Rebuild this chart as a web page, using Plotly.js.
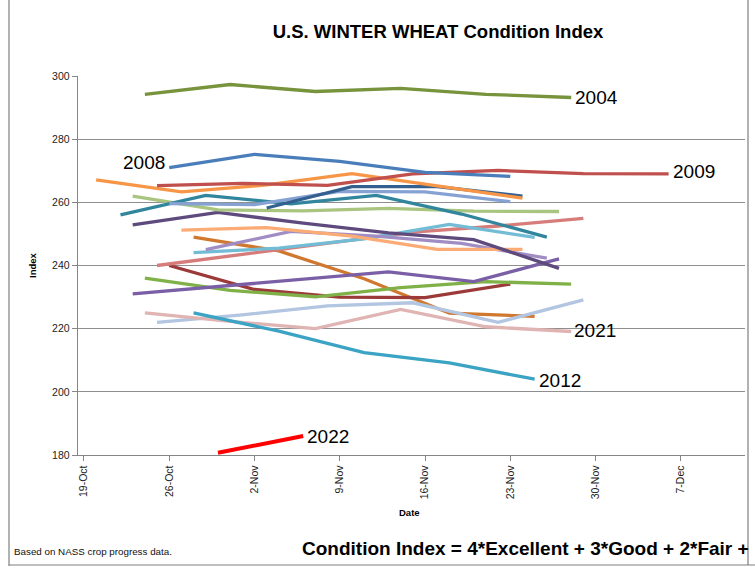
<!DOCTYPE html>
<html>
<head>
<meta charset="utf-8">
<script src="https://cdn.plot.ly/plotly-3.0.1.min.js"></script>
<style>html,body{margin:0;padding:0;background:#fff;}#chart{width:755px;height:572px;}</style>
</head>
<body>
<div id="chart"></div>
<script>
// ---- data (dates mapped onto a common season; values = condition index) ----
const yr2004_dates = ['2001-10-24','2001-10-31','2001-11-07','2001-11-14','2001-11-21','2001-11-28'];
const yr2004_vals  = [294.2, 297.3, 295.1, 296.1, 294.2, 293.2];

const yr2008_dates = ['2001-10-26','2001-11-02','2001-11-09','2001-11-16','2001-11-23'];
const yr2008_vals  = [271, 275.2, 273, 269.5, 268.2];

const yr2009_dates = ['2001-10-25','2001-11-01','2001-11-08','2001-11-15','2001-11-22','2001-11-29','2001-12-06'];
const yr2009_vals  = [265.3, 266, 265.4, 269, 270.1, 269.1, 269];

const orange_dates = ['2001-10-20','2001-10-27','2001-11-03','2001-11-10','2001-11-17','2001-11-24'];
const orange_vals  = [267.1, 263.3, 265.5, 269.1, 265.2, 261.3];

const darkBlue_dates = ['2001-11-03','2001-11-10','2001-11-17','2001-11-24'];
const darkBlue_vals  = [258.2, 265, 265, 262];

const steelBlue_dates = ['2001-10-26','2001-11-02','2001-11-09','2001-11-16','2001-11-23'];
const steelBlue_vals  = [259.6, 259.3, 263.5, 263.3, 260.2];

const teal_dates = ['2001-10-22','2001-10-29','2001-11-05','2001-11-12','2001-11-19','2001-11-26'];
const teal_vals  = [256, 262.2, 259.5, 262.2, 256.3, 249];

const lightGreen_dates = ['2001-10-23','2001-10-30','2001-11-06','2001-11-13','2001-11-20','2001-11-27'];
const lightGreen_vals  = [262, 257.6, 257.3, 258.1, 257.2, 257.1];

const darkPurple_dates = ['2001-10-23','2001-10-30','2001-11-06','2001-11-13','2001-11-20','2001-11-27'];
const darkPurple_vals  = [252.9, 256.8, 253.4, 250.3, 248.2, 239.1];

const peach_dates = ['2001-10-27','2001-11-03','2001-11-10','2001-11-17','2001-11-24'];
const peach_vals  = [251.2, 252, 249.3, 245.1, 245.1];

const lavender_dates = ['2001-10-29','2001-11-05','2001-11-12','2001-11-19','2001-11-26'];
const lavender_vals  = [245, 250.8, 249.3, 247, 242.3];

const rose_dates = ['2001-10-25','2001-11-01','2001-11-08','2001-11-15','2001-11-22','2001-11-29'];
const rose_vals  = [240, 243.6, 247.2, 250.6, 252.5, 254.9];

const skyBlue_dates = ['2001-10-28','2001-11-04','2001-11-11','2001-11-18','2001-11-25'];
const skyBlue_vals  = [244.1, 245.5, 248.4, 253, 248.9];

const darkOrange_dates = ['2001-10-28','2001-11-04','2001-11-11','2001-11-18','2001-11-25'];
const darkOrange_vals  = [249, 244.6, 235.8, 224.9, 223.9];

const darkRed_dates = ['2001-10-26','2001-11-02','2001-11-09','2001-11-16','2001-11-23'];
const darkRed_vals  = [240, 232.4, 230, 229.8, 234.1];

const green_dates = ['2001-10-24','2001-10-31','2001-11-07','2001-11-14','2001-11-21','2001-11-28'];
const green_vals  = [236, 232.1, 230.1, 233, 234.9, 234.1];

const purple_dates = ['2001-10-23','2001-10-30','2001-11-06','2001-11-13','2001-11-20','2001-11-27'];
const purple_vals  = [231, 233.4, 235.7, 238, 234.9, 242.1];

const blueGray_dates = ['2001-10-25','2001-11-01','2001-11-08','2001-11-15','2001-11-22','2001-11-29'];
const blueGray_vals  = [222, 224.4, 227.2, 228.2, 222, 229.1];

const yr2021_dates = ['2001-10-24','2001-10-31','2001-11-07','2001-11-14','2001-11-21','2001-11-28'];
const yr2021_vals  = [225, 222.3, 220, 226.1, 220.6, 219.1];

const yr2012_dates = ['2001-10-28','2001-11-04','2001-11-11','2001-11-18','2001-11-25'];
const yr2012_vals  = [225, 219.2, 212.4, 209.2, 204];

const yr2022_dates = ['2001-10-30','2001-11-06'];
const yr2022_vals  = [180.7, 186];

const tickStart = '2001-10-19';
const yTicks = [180, 200, 220, 240, 260, 280, 300];

// ---- series styling ----
const series = [
  {d: darkOrange_dates, v: darkOrange_vals, c: '#D0782F'},
  {d: darkRed_dates, v: darkRed_vals, c: '#9B3A38'},
  {d: green_dates, v: green_vals, c: '#80B148'},
  {d: purple_dates, v: purple_vals, c: '#7A5FA6'},
  {d: blueGray_dates, v: blueGray_vals, c: '#B2C5E1'},
  {d: yr2021_dates, v: yr2021_vals, c: '#DFB4B3'},
  {d: yr2012_dates, v: yr2012_vals, c: '#3BA3C3'},
  {d: rose_dates, v: rose_vals, c: '#D67D7B'},
  {d: skyBlue_dates, v: skyBlue_vals, c: '#72BCD5'},
  {d: lavender_dates, v: lavender_vals, c: '#A08DC4'},
  {d: peach_dates, v: peach_vals, c: '#FBAB75'},
  {d: darkPurple_dates, v: darkPurple_vals, c: '#5F4A7E'},
  {d: lightGreen_dates, v: lightGreen_vals, c: '#A9C580'},
  {d: teal_dates, v: teal_vals, c: '#31869D'},
  {d: steelBlue_dates, v: steelBlue_vals, c: '#85A2D3'},
  {d: darkBlue_dates, v: darkBlue_vals, c: '#34608F'},
  {d: orange_dates, v: orange_vals, c: '#F79646'},
  {d: yr2009_dates, v: yr2009_vals, c: '#C0504D'},
  {d: yr2008_dates, v: yr2008_vals, c: '#4A7EBB'},
  {d: yr2004_dates, v: yr2004_vals, c: '#77933C'},
  {d: yr2022_dates, v: yr2022_vals, c: '#FF0000', w: 4}
];

const traces = series.map(s => ({
  type: 'scatter', mode: 'lines', x: s.d, y: s.v,
  line: {color: s.c, width: s.w || 3.3}, hoverinfo: 'skip'
}));

const labFont = {family: 'Liberation Sans, Arial, sans-serif', size: 19, color: '#000'};
function endLabel(text, dates, vals, xs, ys) {
  return {x: dates[dates.length-1], y: vals[vals.length-1], xref: 'x', yref: 'y', text: text,
    showarrow: false, xanchor: 'left', yanchor: 'middle', xshift: xs, yshift: ys, font: labFont};
}

// paper-coordinate helpers (plot area: px 78..745, py 76..455)
const L = 78, R = 745, T = 76, B = 455;
const px = x => (x - L) / (R - L);
const py = y => (B - y) / (B - T);

const layout = {
  width: 755, height: 572,
  margin: {l: L, r: 755 - R, t: T, b: 572 - B, pad: 0},
  paper_bgcolor: '#fff', plot_bgcolor: '#fff',
  showlegend: false,
  title: {text: 'U.S. WINTER WHEAT Condition Index', x: px(438), xref: 'paper', xanchor: 'center',
          y: 1 - 32/572, yanchor: 'middle',
          font: {family: 'Liberation Sans, Arial, sans-serif', size: 18.5, color: '#000', weight: 'bold'}},
  xaxis: {type: 'date', range: ['2001-10-18 12:15', '2001-12-12 06:30'],
          tick0: tickStart, dtick: 7*86400000, tickformat: '%-d-%b', tickangle: -90,
          ticks: 'outside', ticklen: 5, tickcolor: '#868686',
          showline: true, linecolor: '#868686', linewidth: 1.3, showgrid: false, zeroline: false,
          tickfont: {family: 'Liberation Sans, Arial, sans-serif', size: 10.5, color: '#222'}},
  yaxis: {range: [180, 300], tickvals: yTicks, ticks: 'outside', ticklen: 5, tickcolor: '#868686',
          showline: true, linecolor: '#868686', linewidth: 1.3,
          showgrid: true, gridcolor: '#8e8e8e', gridwidth: 1.3, zeroline: false,
          tickfont: {family: 'Liberation Sans, Arial, sans-serif', size: 10.5, color: '#222'}},
  annotations: [
    endLabel('2004', yr2004_dates, yr2004_vals, 2, 0),
    endLabel('2009', yr2009_dates, yr2009_vals, 2, 2),
    endLabel('2021', yr2021_dates, yr2021_vals, 1, 1),
    endLabel('2012', yr2012_dates, yr2012_vals, 2, -1),
    endLabel('2022', yr2022_dates, yr2022_vals, 2, 0),
    {x: yr2008_dates[0], y: yr2008_vals[0], xref: 'x', yref: 'y', text: '2008', showarrow: false,
     xanchor: 'right', yanchor: 'middle', xshift: -2, yshift: 5, font: labFont},
    {x: px(32), y: py(265), xref: 'paper', yref: 'paper', text: 'Index', showarrow: false, textangle: -90,
     xanchor: 'center', yanchor: 'middle',
     font: {family: 'Liberation Sans, Arial, sans-serif', size: 9.5, color: '#000', weight: 'bold'}},
    {x: px(409), y: py(512), xref: 'paper', yref: 'paper', text: 'Date', showarrow: false,
     xanchor: 'center', yanchor: 'middle',
     font: {family: 'Liberation Sans, Arial, sans-serif', size: 9.5, color: '#000', weight: 'bold'}},
    {x: px(12), y: py(551), xref: 'paper', yref: 'paper', text: 'Based on NASS crop progress data.', showarrow: false,
     xanchor: 'left', yanchor: 'middle', font: {family: 'Liberation Sans, Arial, sans-serif', size: 9.8, color: '#111'}},
    {x: px(300), y: py(548), xref: 'paper', yref: 'paper', text: 'Condition Index = 4*Excellent + 3*Good + 2*Fair +', showarrow: false,
     xanchor: 'left', yanchor: 'middle', font: {family: 'Liberation Sans, Arial, sans-serif', size: 19, color: '#000', weight: 'bold'}}
  ],
  shapes: [
    {type: 'line', xref: 'paper', yref: 'paper', x0: px(9), x1: px(9), y0: py(0), y1: py(566), line: {color: '#7f7f7f', width: 1.2}},
    {type: 'line', xref: 'paper', yref: 'paper', x0: px(9), x1: px(755), y0: py(565), y1: py(565), line: {color: '#7f7f7f', width: 1.2}},
    {type: 'line', xref: 'paper', yref: 'paper', x0: px(748), x1: px(748), y0: py(0), y1: py(565), line: {color: '#7f7f7f', width: 1.2}}
  ]
};

Plotly.newPlot('chart', traces, layout, {displayModeBar: false, staticPlot: true});
</script>
</body>
</html>
